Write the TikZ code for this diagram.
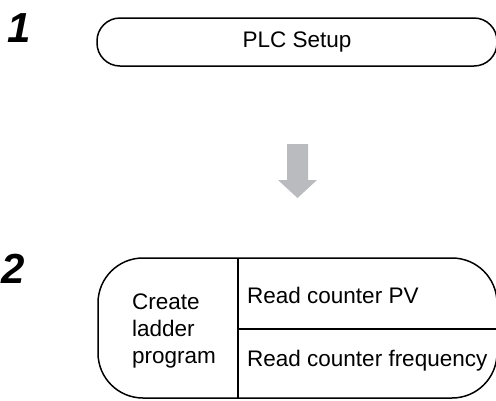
\documentclass[tikz,border=0pt]{standalone}
\usepackage{fontspec}
\setmainfont{Liberation Sans}
\definecolor{arrowgray}{RGB}{186,187,191}
\tikzset{
    stepbox/.style={draw, line width=1.5pt, inner sep=0pt},
    stepnum/.style={font=\fontsize{42}{42}\selectfont\bfseries\itshape, inner sep=0pt, anchor=base west},
    boxtext/.style={font=\fontsize{22.5}{27}\selectfont, inner sep=0pt, align=left}
}
\begin{document}
\begin{tikzpicture}[x=1pt, y=-1pt]
        \useasboundingbox (0, 0) rectangle (496, 400);

        % step numbers
        \node [stepnum] (num1) at (7, 42) {1};
        \node [stepnum] (num2) at (1, 283) {2};

        % PLC Setup
        \node [stepbox, rounded corners=23pt, minimum width=400pt, minimum height=48pt,
               font=\fontsize{22.5}{27}\selectfont] (setup) at (297, 42) {PLC Setup};

        % arrow between the steps
        \fill [arrowgray] (287, 144) -- (308, 144) -- (308, 180) -- (317, 180)
            -- (297.5, 198) -- (278, 180) -- (287, 180) -- cycle;

        % ladder program box
        \node [stepbox, rounded corners=45pt, minimum width=399pt, minimum height=140pt]
            (ladder) at (297.5, 328) {};
        \draw [line width=1.5pt] (238, 258) -- (238, 398);
        \draw [line width=1.5pt] (238, 329) -- (497, 329);

        \node [boxtext, anchor=west] (create) at (132, 330.5) {Create\\ladder\\program};
        \node [boxtext, anchor=base west] (readpv) at (247, 303) {Read counter PV};
        \node [boxtext, anchor=base west] (readfreq) at (247, 366) {Read counter frequency};
\end{tikzpicture}
\end{document}
